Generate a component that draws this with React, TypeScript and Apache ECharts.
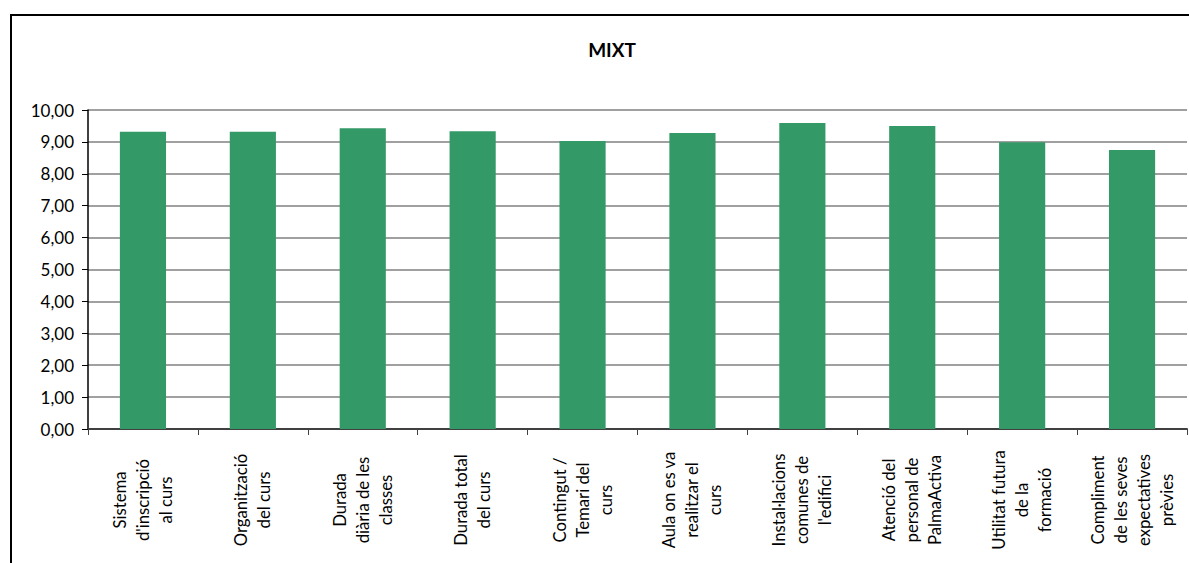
import React, { useEffect, useRef } from "react";
import * as echarts from "echarts";

const categories = [
  "Sistema\nd'inscripció\nal curs",
  "Organització\ndel curs",
  "Durada\ndiària de les\nclasses",
  "Durada total\ndel curs",
  "Contingut /\nTemari del\ncurs",
  "Aula on es va\nrealitzar el\ncurs",
  "Instal·lacions\ncomunes de\nl'edifici",
  "Atenció del\npersonal de\nPalmaActiva",
  "Utilitat futura\nde la\nformació",
  "Compliment\nde les seves\nexpectatives\nprèvies",
];
const values = [9.32, 9.32, 9.43, 9.33, 9.03, 9.28, 9.59, 9.5, 8.99, 8.75];
const title = "MIXT";

const FONT = "Lato, 'Open Sans', sans-serif";

export default function App() {
  const ref = useRef<HTMLDivElement>(null);
  useEffect(() => {
    if (!ref.current) return;
    const chart = echarts.init(ref.current, null, { renderer: "svg" });
    chart.setOption({
      animation: false,
      backgroundColor: "#ffffff",
      title: {
        text: title,
        left: 607,
        top: 35,
        textAlign: "center",
        textStyle: { fontFamily: FONT, fontSize: 19, fontWeight: "bold", color: "#000" },
      },
      graphic: [
        {
          type: "rect",
          shape: { x: 11, y: 15, width: 1400, height: 700 },
          style: { fill: "none", stroke: "#000", lineWidth: 2 },
          silent: true,
        },
      ],
      grid: { left: 88, right: 2, top: 110, bottom: 134 },
      xAxis: {
        type: "category",
        data: categories,
        axisLine: { lineStyle: { color: "#404040", width: 2 } },
        axisTick: { show: true, alignWithLabel: false, interval: 0, length: 6, lineStyle: { color: "#404040" } },
        axisLabel: {
          interval: 0,
          rotate: 90,
          align: "center",
          verticalAlign: "middle",
          margin: 71,
          fontFamily: FONT,
          fontSize: 16.7,
          lineHeight: 23,
          color: "#000",
        },
      },
      yAxis: {
        type: "value",
        min: 0,
        max: 10,
        interval: 1,
        axisLine: { show: true, lineStyle: { color: "#000", width: 1.5 } },
        axisTick: { show: true, length: 6, lineStyle: { color: "#000" } },
        splitLine: { lineStyle: { color: "#808080", width: 1.5 } },
        axisLabel: {
          margin: 14,
          fontFamily: FONT,
          fontSize: 17,
          color: "#000",
          formatter: (v: number) => v.toFixed(2).replace(".", ","),
        },
      },
      series: [
        {
          type: "bar",
          data: values,
          barWidth: "42%",
          itemStyle: { color: "#339966" },
        },
      ],
    });
    return () => chart.dispose();
  }, []);
  return (
    <div
      ref={ref}
      style={{ position: "fixed", left: 0, top: 0, width: 1189, height: 563 }}
    />
  );
}
